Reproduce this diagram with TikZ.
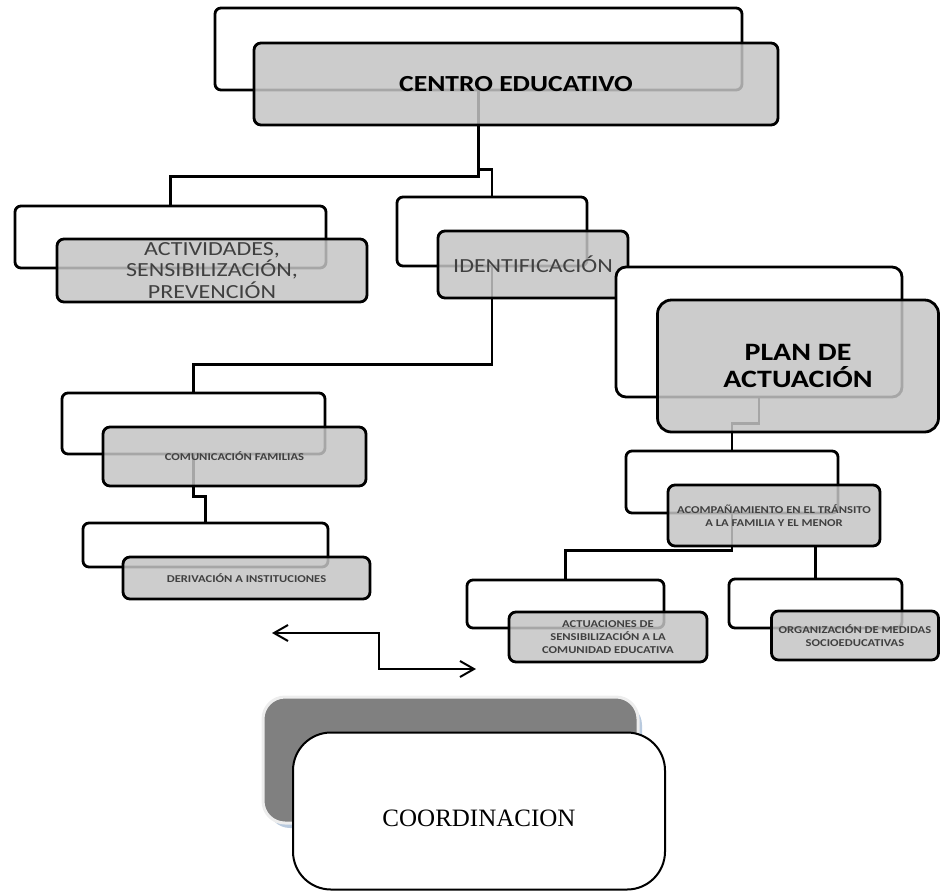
\documentclass[tikz,border=0pt]{standalone}
\usepackage{fontspec}
\setmainfont{Carlito}[FakeStretch=1.2]
\newfontfamily\coordfont{Liberation Serif}
\usetikzlibrary{positioning,arrows.meta,backgrounds}
\definecolor{boxgray}{gray}{0.77}
\definecolor{labelgray}{gray}{0.25}
\definecolor{panelgray}{gray}{0.5}
\definecolor{glowblue}{RGB}{185,202,222}

\begin{document}
\begin{tikzpicture}[x=1pt, y=-1pt,
  sz/.style 2 args={minimum width=#1pt, minimum height=#2pt},
  back/.style={draw, line width=2.8pt, rounded corners=6pt, fill=white, inner sep=0pt},
  front/.style={draw, line width=2.8pt, rounded corners=7pt, fill=boxgray,
    fill opacity=0.85, text opacity=1, inner sep=0pt, align=center, text=labelgray},
  link/.style={line width=2.8pt},
  bigbold/.style={font=\fontsize{23}{25}\selectfont\bfseries, text=black},
  midtext/.style={font=\fontsize{20}{21.5}\selectfont},
  smalltext/.style={font=\fontsize{10.5}{12.8}\selectfont\bfseries}]
\useasboundingbox (0,0) rectangle (941,892);

% centro educativo
\node[back, sz={527}{82}] (cb) at (478.5,49) {};
\node[front, sz={524}{82}, bigbold] (cf) at (516,84) {CENTRO EDUCATIVO};

% actividades
\node[back, sz={311}{62}] (ab) at (170.5,237) {};
\node[front, sz={310}{63}, midtext] (af) at (212,270.5) {ACTIVIDADES,\\SENSIBILIZACIÓN,\\PREVENCIÓN};

% identificacion
\node[back, sz={190}{69}] (ib) at (492,231.5) {};
\node[front, sz={190}{67}, midtext] (idf) at (533,264.5) {IDENTIFICACIÓN};

% plan de actuacion
\node[back, sz={286}{130}, rounded corners=10pt] (pb) at (759,332) {};
\node[front, sz={281}{132}, rounded corners=14pt, font=\fontsize{25}{27}\selectfont\bfseries, text=black]
  (pf) at (798,366) {PLAN DE\\ACTUACIÓN};

% comunicacion / derivacion
\node[back, sz={263}{61}] (cmb) at (193.5,423.5) {};
\node[front, sz={263}{59}, smalltext] (cmf) at (234.5,456.5) {COMUNICACIÓN FAMILIAS};
\node[back, sz={245}{44}] (db) at (205.5,545) {};
\node[front, sz={247}{42}, smalltext] (df) at (246.5,578) {DERIVACIÓN A INSTITUCIONES};

% acompanamiento
\node[back, sz={212}{62}] (acb) at (732,482) {};
\node[front, sz={212}{61}, smalltext] (acf) at (774,515.5) {ACOMPAÑAMIENTO EN EL TRÁNSITO\\A LA FAMILIA Y EL MENOR};
\node[back, sz={197}{48}] (atb) at (565.5,604) {};
\node[front, sz={198}{50}, smalltext] (atf) at (608,637) {ACTUACIONES DE\\SENSIBILIZACIÓN A LA\\COMUNIDAD EDUCATIVA};
\node[back, sz={173}{49}] (ob) at (815.5,603.5) {};
\node[front, sz={167}{49}, smalltext] (of) at (855,635.5) {ORGANIZACIÓN DE MEDIDAS\\SOCIOEDUCATIVAS};

\begin{pgfonlayer}{background}
\draw[link] (cb.south) -- ++(0,85) -| (ab.north);
\draw[link] (cb.south) -- ++(0,78) -| (ib.north);
\draw[link] (ib.south) -- ++(0,97) -| (cmb.north);
\draw[link] (cmb.south) -- ++(0,41) -| (db.north);
\draw[link] (pb.south) -- ++(0,25) -| (acb.north);
\draw[link] (acb.south) -- ++(0,36) -| (atb.north);
\draw[link] (acf.south -| ob.north) -- (ob.north);
\end{pgfonlayer}

% flecha
\coordinate (arrL) at (272,633);
\coordinate (arrM) at (379,651);
\coordinate (arrR) at (476,669);
\draw[line width=2pt, {Straight Barb[length=14pt,width=16pt]}-{Straight Barb[length=14pt,width=16pt]}]
  (arrL) -| (arrM) |- (arrR);

% coordinacion
\fill[glowblue, rounded corners=22pt] (268,703) rectangle (642,828);
\node[draw=white!93!black, line width=3pt, fill=panelgray, rounded corners=22pt, sz={375}{126}]
  (crb) at (450.5,760) {};
\node[draw, line width=2pt, fill=white, rounded corners=38pt, sz={372}{157},
  label={[font=\coordfont\fontsize{25}{27}\selectfont, yshift=-7pt]center:COORDINACION}]
  (crf) at (479,811) {};
\end{tikzpicture}
\end{document}
